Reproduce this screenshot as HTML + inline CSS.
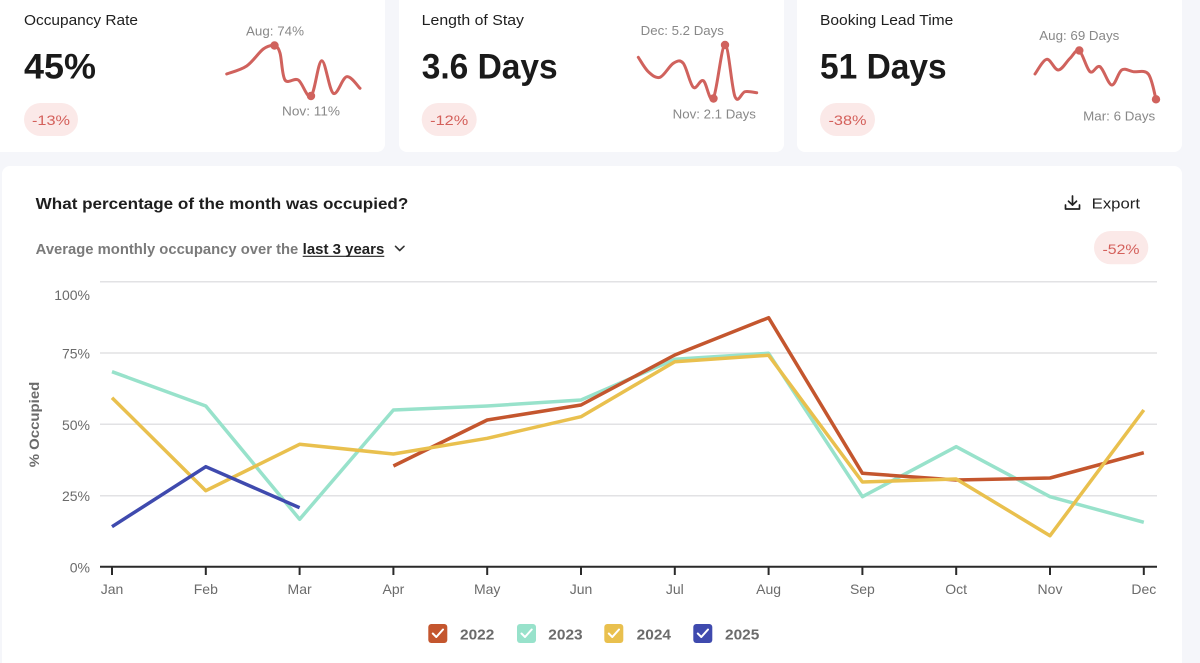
<!DOCTYPE html>
<html><head><meta charset="utf-8"><style>
html,body{margin:0;padding:0;background:#f5f6fa;}
svg{display:block;font-family:"Liberation Sans",Arial,sans-serif;}
</style></head><body>
<svg id="s" width="1200" height="663" viewBox="0 0 1200 663" xmlns="http://www.w3.org/2000/svg">
<rect x="0" y="0" width="1200" height="663" fill="#f5f6fa"/>
<!-- cards -->
<rect x="-10" y="-10" width="395" height="162" rx="8" fill="#fff"/>
<rect x="399" y="-10" width="385" height="162" rx="8" fill="#fff"/>
<rect x="797" y="-10" width="385" height="162" rx="8" fill="#fff"/>
<rect x="2" y="166" width="1180" height="520" rx="8" fill="#fff"/>

<!-- card 1 -->
<text x="24" y="25" font-size="15" fill="#1e1e1e" textLength="114" lengthAdjust="spacingAndGlyphs">Occupancy Rate</text>
<text x="24" y="78.5" font-size="35" font-weight="bold" fill="#1a1a1a" textLength="72" lengthAdjust="spacingAndGlyphs">45%</text>
<rect x="24" y="103" width="54" height="33" rx="16.5" fill="#fbe9e8"/>
<text x="51" y="125" font-size="14" fill="#d4605b" text-anchor="middle" textLength="38" lengthAdjust="spacingAndGlyphs">-13%</text>
<polyline class="sm" points="226.7,74 246.7,66 263.3,49 274.3,45.7 280,53 285,80 298.3,80 311,96 321.7,60.7 333.3,93.3 346.7,76.7 360,88.3" fill="none" stroke="#d0625d" stroke-width="3" stroke-linejoin="round" stroke-linecap="round"/>
<circle cx="274.5" cy="45.5" r="4.2" fill="#d0625d"/>
<circle cx="311" cy="96" r="4.2" fill="#d0625d"/>
<text x="275" y="35.5" font-size="12.5" fill="#888" text-anchor="middle" textLength="58" lengthAdjust="spacingAndGlyphs">Aug: 74%</text>
<text x="311" y="115.5" font-size="12.5" fill="#888" text-anchor="middle" textLength="58" lengthAdjust="spacingAndGlyphs">Nov: 11%</text>

<!-- card 2 -->
<text x="421.7" y="25" font-size="15" fill="#1e1e1e" textLength="102.3" lengthAdjust="spacingAndGlyphs">Length of Stay</text>
<text x="421.7" y="78.5" font-size="35" font-weight="bold" fill="#1a1a1a" textLength="136" lengthAdjust="spacingAndGlyphs">3.6 Days</text>
<rect x="421.7" y="103" width="55" height="33" rx="16.5" fill="#fbe9e8"/>
<text x="449.2" y="125" font-size="14" fill="#d4605b" text-anchor="middle" textLength="38" lengthAdjust="spacingAndGlyphs">-12%</text>
<polyline class="sm" points="638.3,57.3 648.3,71.7 660,77.3 673.3,63.3 683.3,63.3 693.3,87.3 703.3,80.7 713.3,98.3 725,45 735,96.7 745,91.7 756.7,92.7" fill="none" stroke="#d0625d" stroke-width="3" stroke-linejoin="round" stroke-linecap="round"/>
<circle cx="713.5" cy="98.5" r="4.2" fill="#d0625d"/>
<circle cx="725" cy="45" r="4.2" fill="#d0625d"/>
<text x="682.3" y="35" font-size="12.5" fill="#888" text-anchor="middle" textLength="83.3" lengthAdjust="spacingAndGlyphs">Dec: 5.2 Days</text>
<text x="714.3" y="118.3" font-size="12.5" fill="#888" text-anchor="middle" textLength="83.3" lengthAdjust="spacingAndGlyphs">Nov: 2.1 Days</text>

<!-- card 3 -->
<text x="820" y="25" font-size="15" fill="#1e1e1e" textLength="133.3" lengthAdjust="spacingAndGlyphs">Booking Lead Time</text>
<text x="820" y="78.5" font-size="35" font-weight="bold" fill="#1a1a1a" textLength="126.7" lengthAdjust="spacingAndGlyphs">51 Days</text>
<rect x="820" y="103" width="55" height="33" rx="16.5" fill="#fbe9e8"/>
<text x="847.5" y="125" font-size="14" fill="#d4605b" text-anchor="middle" textLength="38" lengthAdjust="spacingAndGlyphs">-38%</text>
<polyline class="sm" points="1035,74 1046.7,59.3 1058.3,70 1070,58.3 1079.3,50.7 1090,71.7 1100,66.7 1111.7,85 1121.7,70 1133.3,71.7 1148.3,74 1156,99.3" fill="none" stroke="#d0625d" stroke-width="3" stroke-linejoin="round" stroke-linecap="round"/>
<circle cx="1079.3" cy="50.5" r="4.2" fill="#d0625d"/>
<circle cx="1156" cy="99.3" r="4.2" fill="#d0625d"/>
<text x="1079.3" y="40" font-size="12.5" fill="#888" text-anchor="middle" textLength="80" lengthAdjust="spacingAndGlyphs">Aug: 69 Days</text>
<text x="1119.2" y="120.3" font-size="12.5" fill="#888" text-anchor="middle" textLength="72" lengthAdjust="spacingAndGlyphs">Mar: 6 Days</text>

<!-- main card header -->
<text x="35.7" y="209" font-size="16" font-weight="bold" fill="#1e1e1e" textLength="372.6" lengthAdjust="spacingAndGlyphs">What percentage of the month was occupied?</text>
<text x="35.7" y="254" font-size="14.5" fill="#7a7a7a" font-weight="bold" textLength="262.6" lengthAdjust="spacingAndGlyphs">Average monthly occupancy over the</text>
<text x="302.7" y="254" font-size="14.5" font-weight="bold" fill="#222" textLength="81.6" lengthAdjust="spacingAndGlyphs">last 3 years</text>
<line x1="302.7" y1="256.3" x2="384.3" y2="256.3" stroke="#222" stroke-width="1.2"/>
<polyline points="395.5,246.3 399.7,250.5 404,246.3" fill="none" stroke="#333" stroke-width="1.6" stroke-linecap="round" stroke-linejoin="round"/>

<!-- export -->
<g fill="none" stroke="#222" stroke-width="1.7" stroke-linecap="round" stroke-linejoin="round">
<line x1="1072.5" y1="196" x2="1072.5" y2="205"/>
<polyline points="1068.5,201.2 1072.5,205 1076.5,201.2"/>
<polyline points="1065.5,205 1065.5,209 1079.5,209 1079.5,205"/>
</g>
<text x="1091.7" y="208.3" font-size="15" fill="#222" textLength="48.3" lengthAdjust="spacingAndGlyphs">Export</text>
<rect x="1094" y="231" width="54.3" height="33.3" rx="16.6" fill="#fbe9e8"/>
<text x="1121" y="254" font-size="14" fill="#d4605b" text-anchor="middle" textLength="37" lengthAdjust="spacingAndGlyphs">-52%</text>

<!-- gridlines -->
<g stroke="#e2e2e4" stroke-width="1.5">
<line x1="100" y1="281.7" x2="1157" y2="281.7"/>
<line x1="100" y1="353" x2="1157" y2="353"/>
<line x1="100" y1="424.3" x2="1157" y2="424.3"/>
<line x1="100" y1="495.7" x2="1157" y2="495.7"/>
</g>
<!-- y labels -->
<g font-size="14" fill="#6b6b6b" text-anchor="end">
<text x="90" y="300">100%</text>
<text x="90" y="358.5">75%</text>
<text x="90" y="430">50%</text>
<text x="90" y="501">25%</text>
<text x="90" y="572.5">0%</text>
</g>
<text transform="translate(39,424.5) rotate(-90)" font-size="14" font-weight="bold" fill="#6b6b6b" text-anchor="middle" textLength="85.6" lengthAdjust="spacingAndGlyphs">% Occupied</text>

<!-- series -->
<g fill="none" stroke-width="3.5" stroke-linejoin="round" stroke-linecap="butt">
<polyline stroke="#98e2cb" points="112,371.7 205.8,406 299.6,519.3 393.4,410 487.2,406 581,400 674.8,359.3 768.6,353.3 862.4,496.7 956.2,446.7 1050,496.7 1143.8,522.3"/>
<polyline stroke="#c4562e" points="393.4,466 487.2,420 581,405 674.8,355 768.6,317.7 862.4,473.3 956.2,480 1050,478 1143.8,452.7"/>
<polyline stroke="#e9c04e" points="112,397.7 205.8,490.7 299.6,444.3 393.4,454 487.2,438.3 581,416.7 674.8,361.7 768.6,355.3 862.4,482 956.2,479 1050,535.7 1143.8,410"/>
<polyline stroke="#3f4aae" points="112,526.7 205.8,466.7 299.6,507.7"/>
</g>

<!-- x axis -->
<line x1="100" y1="566.7" x2="1157" y2="566.7" stroke="#2a2a2a" stroke-width="2"/>
<g stroke="#2a2a2a" stroke-width="2">
<line x1="112" y1="566" x2="112" y2="575"/>
<line x1="205.8" y1="566" x2="205.8" y2="575"/>
<line x1="299.6" y1="566" x2="299.6" y2="575"/>
<line x1="393.4" y1="566" x2="393.4" y2="575"/>
<line x1="487.2" y1="566" x2="487.2" y2="575"/>
<line x1="581" y1="566" x2="581" y2="575"/>
<line x1="674.8" y1="566" x2="674.8" y2="575"/>
<line x1="768.6" y1="566" x2="768.6" y2="575"/>
<line x1="862.4" y1="566" x2="862.4" y2="575"/>
<line x1="956.2" y1="566" x2="956.2" y2="575"/>
<line x1="1050" y1="566" x2="1050" y2="575"/>
<line x1="1143.8" y1="566" x2="1143.8" y2="575"/>
</g>
<g font-size="14" fill="#6b6b6b" text-anchor="middle">
<text x="112" y="594">Jan</text>
<text x="205.8" y="594">Feb</text>
<text x="299.6" y="594">Mar</text>
<text x="393.4" y="594">Apr</text>
<text x="487.2" y="594">May</text>
<text x="581" y="594">Jun</text>
<text x="674.8" y="594">Jul</text>
<text x="768.6" y="594">Aug</text>
<text x="862.4" y="594">Sep</text>
<text x="956.2" y="594">Oct</text>
<text x="1050" y="594">Nov</text>
<text x="1143.8" y="594">Dec</text>
</g>

<!-- legend -->
<g>
<rect x="428.3" y="624" width="19" height="19" rx="3" fill="#c4562e"/>
<rect x="517" y="624" width="19" height="19" rx="3" fill="#98e2cb"/>
<rect x="604.3" y="624" width="19" height="19" rx="3" fill="#e9c04e"/>
<rect x="693.3" y="624" width="19" height="19" rx="3" fill="#3f4aae"/>
<g fill="none" stroke="#fff" stroke-width="2" stroke-linecap="round" stroke-linejoin="round">
<polyline points="432.8,633.5 436.3,637 443,629.5"/>
<polyline points="521.5,633.5 525,637 531.7,629.5"/>
<polyline points="608.8,633.5 612.3,637 619,629.5"/>
<polyline points="697.8,633.5 701.3,637 708,629.5"/>
</g>
<g font-size="15" font-weight="bold" fill="#6b6b6b">
<text x="460" y="639.3" textLength="34.3" lengthAdjust="spacingAndGlyphs">2022</text>
<text x="548.3" y="639.3" textLength="34.3" lengthAdjust="spacingAndGlyphs">2023</text>
<text x="636.7" y="639.3" textLength="34.3" lengthAdjust="spacingAndGlyphs">2024</text>
<text x="725" y="639.3" textLength="34.3" lengthAdjust="spacingAndGlyphs">2025</text>
</g>
</g>
</svg>
<script>
(function(){
  var NS="http://www.w3.org/2000/svg";
  var pls=document.querySelectorAll("polyline.sm");
  for(var k=0;k<pls.length;k++){
    var pl=pls[k];
    var raw=pl.getAttribute("points").trim().split(/\s+/).map(function(s){var a=s.split(",");return [parseFloat(a[0]),parseFloat(a[1])];});
    var d="M"+raw[0][0]+","+raw[0][1];
    for(var i=0;i<raw.length-1;i++){
      var p0=raw[i>0?i-1:i],p1=raw[i],p2=raw[i+1],p3=raw[i+2<raw.length?i+2:i+1];
      var t=0.5/3;
      var c1x=p1[0]+(p2[0]-p0[0])*t,c1y=p1[1]+(p2[1]-p0[1])*t;
      var c2x=p2[0]-(p3[0]-p1[0])*t,c2y=p2[1]-(p3[1]-p1[1])*t;
      d+=" C"+c1x.toFixed(2)+","+c1y.toFixed(2)+" "+c2x.toFixed(2)+","+c2y.toFixed(2)+" "+p2[0]+","+p2[1];
    }
    var p=document.createElementNS(NS,"path");
    p.setAttribute("d",d);
    p.setAttribute("fill","none");
    p.setAttribute("stroke",pl.getAttribute("stroke"));
    p.setAttribute("stroke-width","3");
    p.setAttribute("stroke-linecap","round");
    p.setAttribute("stroke-linejoin","round");
    pl.parentNode.replaceChild(p,pl);
  }
})();
</script>
</body></html>
